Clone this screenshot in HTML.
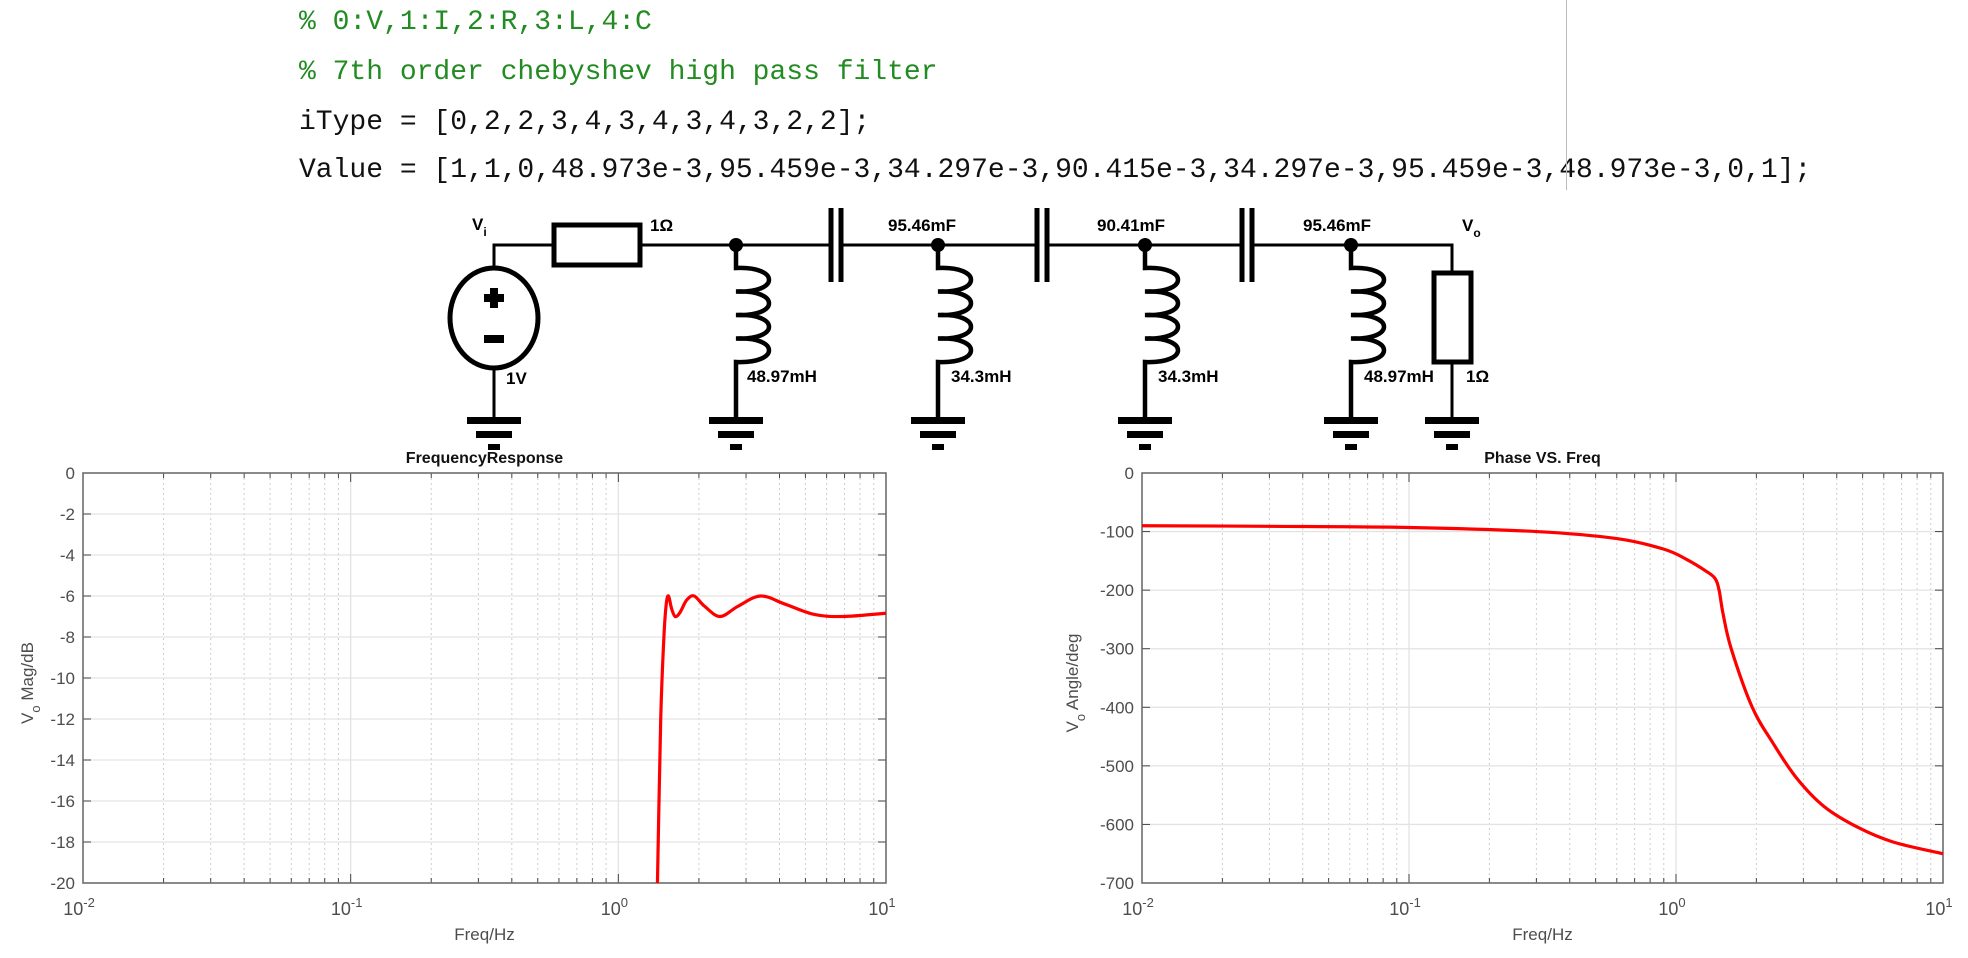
<!DOCTYPE html>
<html><head><meta charset="utf-8">
<style>
html,body{margin:0;padding:0;background:#fff;overflow:hidden;}
body{width:1968px;height:958px;position:relative;overflow:hidden;font-family:"Liberation Sans",sans-serif;}
.code{position:absolute;left:299px;font-family:"Liberation Mono",monospace;font-size:28px;white-space:pre;color:#111;line-height:32px;}
.cm{color:#228B22;}
</style></head>
<body>
<div class="code cm" style="top:7px">% 0:V,1:I,2:R,3:L,4:C</div>
<div class="code cm" style="top:57px">% 7th order chebyshev high pass filter</div>
<div class="code" style="top:107px">iType = [0,2,2,3,4,3,4,3,4,3,2,2];</div>
<div class="code" style="top:155px">Value = [1,1,0,48.973e-3,95.459e-3,34.297e-3,90.415e-3,34.297e-3,95.459e-3,48.973e-3,0,1];</div>
<div style="position:absolute;left:1566px;top:0;width:1px;height:190px;background:#bbb"></div>

<svg width="1968" height="460" style="position:absolute;left:0;top:0" font-family="Liberation Sans, sans-serif" font-weight="bold" font-size="17">
<g stroke="#000" stroke-width="3" fill="none">
<path d="M494 268 V245 H554 M640 245 H831 M841 245 H1037 M1047 245 H1242 M1252 245 H1452 V273"/>
<ellipse cx="494" cy="318" rx="44" ry="50" stroke-width="5"/>
<path d="M494 368 V419"/>
<rect x="554" y="225" width="86" height="40" stroke-width="5"/>
<rect x="1434" y="273" width="37" height="89" stroke-width="5"/>
<path d="M1452 362 V419"/>
<path d="M831 208 V282 M841 208 V282 M1037 208 V282 M1047 208 V282 M1242 208 V282 M1252 208 V282" stroke-width="5"/>
</g>
<g fill="#000"><rect x="490" y="288" width="8" height="20"/><rect x="484" y="294" width="20" height="8"/><rect x="484" y="335" width="20" height="8"/></g>
<g id="inds"></g>
<text x="472" y="230">V<tspan font-size="12" dy="6">i</tspan></text>
<text x="506" y="384">1V</text>
<text x="650" y="231">1Ω</text>
<text x="888" y="231">95.46mF</text>
<text x="1097" y="231">90.41mF</text>
<text x="1303" y="231">95.46mF</text>
<text x="1462" y="231">V<tspan font-size="12" dy="6">o</tspan></text>
<text x="747" y="382">48.97mH</text>
<text x="951" y="382">34.3mH</text>
<text x="1158" y="382">34.3mH</text>
<text x="1364" y="382">48.97mH</text>
<text x="1466" y="382">1Ω</text>
</svg>

<svg id="charts" width="1968" height="958" style="position:absolute;left:0;top:0" font-family="Liberation Sans, sans-serif"></svg>

<script>
const NS='http://www.w3.org/2000/svg';
function mk(p,t,a){const e=document.createElementNS(NS,t);for(const k in a)e.setAttribute(k,a[k]);p.appendChild(e);return e;}
const ci=document.getElementById('inds');
const nodeX=[736,938,1145,1351];
nodeX.forEach(x=>{
  const n=mk(ci,'circle',{cx:x,cy:245,r:7,fill:'#000'});
  
  
  let d=`M${x} 245 V268`;
  for(let i=0;i<4;i++){const y=268+i*23.5;d+=` C${x+44} ${y-2} ${x+44} ${y+25.5} ${x} ${y+23.5}`;}
  d+=` V419`;
  const p=mk(ci,'path',{d:d,stroke:'#000','stroke-width':4.5,fill:'none'});
  
  
});
[494,736,938,1145,1351,1452].forEach(x=>{
  const g=mk(ci,'g',{fill:'#000'});
  
  
  mk(g,'rect',{x:x-27,y:417,width:54,height:7});mk(g,'rect',{x:x-18,y:431,width:36,height:7});mk(g,'rect',{x:x-6,y:444,width:12,height:6});
});

// ---- chart data ----
const magFreq=[1.37,1.40,1.44,1.48,1.51,1.54,1.58,1.63,1.7,1.8,1.92,2.1,2.4,2.8,3.4,4.2,5.4,6.9,10];
const magDb=[-26,-20,-12,-8,-6.4,-6.0,-6.6,-7.0,-6.8,-6.2,-6.0,-6.5,-7.0,-6.5,-6.0,-6.4,-6.9,-7.0,-6.84];
const phFreq=[0.01,0.03,0.1,0.3,0.6,0.9,1.1,1.3,1.4,1.45,1.5,1.61,1.93,2.3,2.82,3.6,4.8,6.5,10];
const phDeg=[-90,-91,-93,-100,-112,-130,-148,-168,-180,-200,-240,-300,-400,-460,-520,-570,-605,-630,-650];
const magTicks=[0,-2,-4,-6,-8,-10,-12,-14,-16,-18,-20];
const phTicks=[0,-100,-200,-300,-400,-500,-600,-700];
const xDecades=[-2,-1,0,1];

const svg=document.getElementById('charts');
function chart(o){
  const L=o.L,R=o.R,T=473,B=883;
  const sx=f=>L+(Math.log10(f)+2)/3*(R-L);
  const sy=v=>T+(o.ymax-v)/(o.ymax-o.ymin)*(B-T);
  const g=mk(svg,'g',{});
  
  
  for(let d=-2;d<1;d++)for(let m=2;m<10;m++){const x=sx(m*Math.pow(10,d));
    mk(g,'line',{x1:x,x2:x,y1:T,y2:B,stroke:'#ccc','stroke-width':1,'stroke-dasharray':'2,3'});
    mk(g,'line',{x1:x,x2:x,y1:B,y2:B-5,stroke:'#444'});mk(g,'line',{x1:x,x2:x,y1:T,y2:T+5,stroke:'#444'});}
  xDecades.forEach(d=>{const x=sx(Math.pow(10,d));
    mk(g,'line',{x1:x,x2:x,y1:T,y2:B,stroke:'#e3e3e3','stroke-width':1.3});
    mk(g,'line',{x1:x,x2:x,y1:B,y2:B-9,stroke:'#444'});mk(g,'line',{x1:x,x2:x,y1:T,y2:T+9,stroke:'#444'});
    const t=mk(g,'text',{x:x-4,y:B+32,'font-size':18,fill:'#4d4d4d','text-anchor':'middle'});
    
    
    t.textContent='10';const s=mk(t,'tspan',{dy:-8,'font-size':13});s.textContent=d;});
  o.ticks.forEach(v=>{const y=sy(v);
    mk(g,'line',{x1:L,x2:R,y1:y,y2:y,stroke:'#e3e3e3','stroke-width':1.3});
    mk(g,'line',{x1:L,x2:L+8,y1:y,y2:y,stroke:'#444'});mk(g,'line',{x1:R,x2:R-8,y1:y,y2:y,stroke:'#444'});
    const t=mk(g,'text',{x:L-8,y:y+6,'font-size':17,fill:'#4d4d4d','text-anchor':'end'});
    
    
    t.textContent=v;});
  mk(g,'rect',{x:L,y:T,width:R-L,height:B-T,fill:'none',stroke:'#666','stroke-width':1.5});
  const pts=o.fx.map((f,i)=>[sx(f),sy(o.fy[i])]);
  const cp=mk(g,'clipPath',{id:o.name+'-clip'});mk(cp,'rect',{x:L,y:T,width:R-L,height:B-T});
  let d=`M${pts[0][0]} ${pts[0][1]}`;
  for(let i=0;i<pts.length-1;i++){const p0=pts[Math.max(0,i-1)],p1=pts[i],p2=pts[i+1],p3=pts[Math.min(pts.length-1,i+2)];
    d+=` C${p1[0]+(p2[0]-p0[0])/6} ${p1[1]+(p2[1]-p0[1])/6} ${p2[0]-(p3[0]-p1[0])/6} ${p2[1]-(p3[1]-p1[1])/6} ${p2[0]} ${p2[1]}`;}
  const line=mk(g,'path',{d:d,stroke:'#ff0000','stroke-width':3.2,fill:'none','clip-path':`url(#${o.name}-clip)`});
  
  
  const tt=mk(g,'text',{x:(L+R)/2,y:463,'font-size':16,'font-weight':'bold',fill:'#111','text-anchor':'middle'});
  
  
  tt.textContent=o.title;
  const xl=mk(g,'text',{x:(L+R)/2,y:940,'font-size':17,fill:'#4d4d4d','text-anchor':'middle'});
  
  
  xl.textContent='Freq/Hz';
  const yl=mk(g,'text',{x:0,y:0,'font-size':17,fill:'#4d4d4d','text-anchor':'middle',transform:`translate(${o.ylx},${o.yly}) rotate(-90)`});
  
  
  yl.textContent='V';const sb=mk(yl,'tspan',{dy:7,'font-size':13});sb.textContent='o';const rs=mk(yl,'tspan',{dy:-7});rs.textContent=' '+o.ylab;
}
chart({name:'magnitude-chart',L:83,R:886,ymax:0,ymin:-20,ticks:magTicks,fx:magFreq,fy:magDb,title:'FrequencyResponse',ylab:'Mag/dB',ylx:33,yly:683});
chart({name:'phase-chart',L:1142,R:1943,ymax:0,ymin:-700,ticks:phTicks,fx:phFreq,fy:phDeg,title:'Phase VS. Freq',ylab:'Angle/deg',ylx:1078,yly:683});
</script>
</body></html>
